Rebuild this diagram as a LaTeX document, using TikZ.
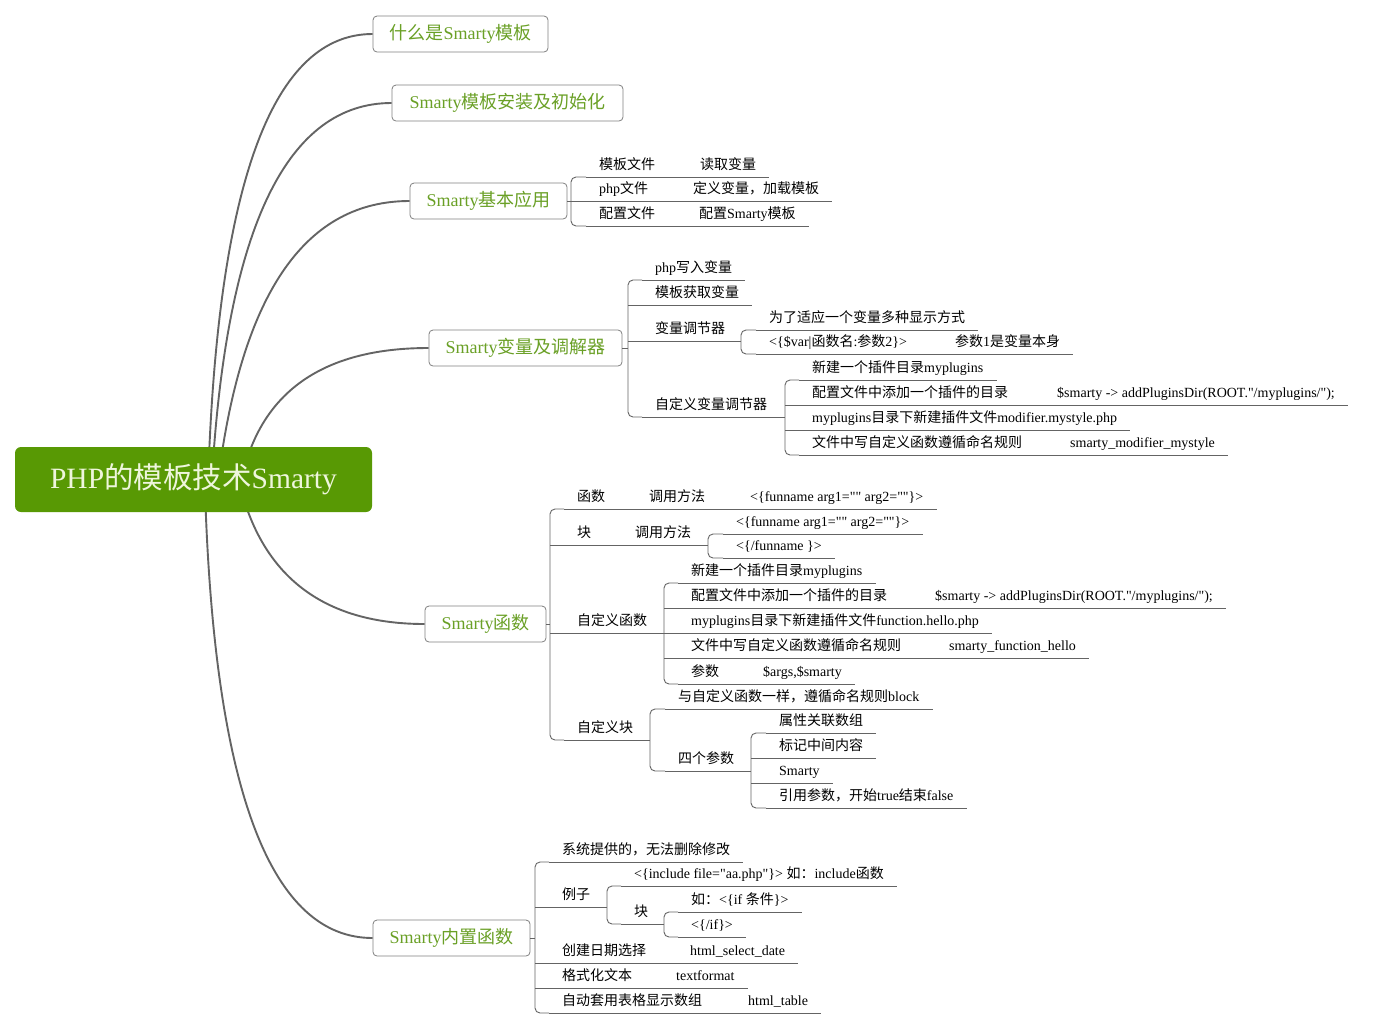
\documentclass[tikz,border=0pt]{standalone}
\usepackage{fontspec}
\setmainfont{Liberation Serif}[Ligatures=TeXOff]
\newfontfamily\zhfont{Noto Sans CJK SC}
\usetikzlibrary{calc,backgrounds}
% switch to the CJK face for Han characters
\XeTeXinterchartokenstate=1
\newXeTeXintercharclass\zhclass
\count255="4E00
\loop\XeTeXcharclass\count255=\zhclass
  \ifnum\count255<"9FFF \advance\count255 by 1 \repeat
\XeTeXcharclass"FF0C=\zhclass
\XeTeXcharclass"FF1A=\zhclass
\XeTeXinterchartoks 0 \zhclass={\begingroup\zhfont}
\XeTeXinterchartoks 4095 \zhclass={\begingroup\zhfont}
\XeTeXinterchartoks \zhclass 0={\endgroup}
\XeTeXinterchartoks \zhclass 4095={\endgroup}

\begin{document}
\begin{tikzpicture}[x=1pt,y=-1pt,
  root/.style={fill=rootGreen,rounded corners=6pt,text=rootText,
    font=\fontsize{29.5}{33}\selectfont,minimum width=357pt,minimum height=65pt},
  topic/.style={draw=boxGray,line width=0.8pt,rounded corners=4pt,fill=white,
    text=topicGreen,font=\fontsize{18}{20}\selectfont,minimum height=36pt},
  leaf/.style={anchor=south west,inner xsep=13pt,inner ysep=4pt,
    text height=11pt,text depth=3pt,font=\fontsize{14}{16}\selectfont},
  branch/.style={draw=lineGray,line width=1.9pt},
  lk/.style={draw=lineGray,line width=0.9pt}]
  \definecolor{rootGreen} {RGB}{ 88,153,  4}
  \definecolor{rootText}  {RGB}{238,246,220}
  \definecolor{topicGreen}{RGB}{106,160, 38}
  \definecolor{lineGray}  {RGB}{100,100,100}
  \definecolor{boxGray}   {RGB}{128,128,128}
  \useasboundingbox(0,0)rectangle(1386,1029);

  \node[root](root)at(193.5,479.5){PHP的模板技术Smarty};
  \node[topic,minimum width=175pt](t1)at(460.5,34){什么是Smarty模板};
  \node[topic,minimum width=231pt](t2)at(507.5,103){Smarty模板安装及初始化};
  \node[topic,minimum width=157pt](t3)at(488.5,201){Smarty基本应用};
  \node[topic,minimum width=193pt](t4)at(525.5,348){Smarty变量及调解器};
  \node[topic,minimum width=121pt](t5)at(485.5,624){Smarty函数};
  \node[topic,minimum width=157pt](t6)at(451.5,938){Smarty内置函数};

  % Smarty基本应用
  \coordinate(s3)at(571,201);
  \node[leaf](a1)at(586,177){模板文件};
  \node[leaf](a1x)at(687,177){读取变量};
  \node[leaf](a2)at(586,201){php文件};
  \node[leaf](a2x)at(680,201){定义变量，加载模板};
  \node[leaf](a3)at(586,226){配置文件};
  \node[leaf](a3x)at(686,226){配置Smarty模板};

  % Smarty变量及调解器
  \coordinate(s4)at(628,348);
  \node[leaf](b1)at(642,280){php写入变量};
  \node[leaf](b2)at(642,305){模板获取变量};
  \node[leaf](b3)at(642,341){变量调节器};
  \coordinate(sb3)at(741,341);
  \node[leaf](b31)at(756,330){为了适应一个变量多种显示方式};
  \node[leaf](b32)at(756,354){<\{\$var|函数名:参数2\}>};
  \node[leaf](b32x)at(942,354){参数1是变量本身};
  \node[leaf](b4)at(642,417){自定义变量调节器};
  \coordinate(sb4)at(785,417);
  \node[leaf](b41)at(799,380){新建一个插件目录myplugins};
  \node[leaf](b42)at(799,405){配置文件中添加一个插件的目录};
  \node[leaf](b42x)at(1044,405){\$smarty -> addPluginsDir(ROOT."/myplugins/");};
  \node[leaf](b43)at(799,430){myplugins目录下新建插件文件modifier.mystyle.php};
  \node[leaf](b44)at(799,455){文件中写自定义函数遵循命名规则};
  \node[leaf](b44x)at(1057,455){smarty\_modifier\_mystyle};

  % Smarty函数
  \coordinate(s5)at(550,624);
  \node[leaf](c1)at(564,509){函数};
  \node[leaf](c1x)at(636,509){调用方法};
  \node[leaf](c1xx)at(737,509){<\{funname arg1="" arg2=""\}>};
  \node[leaf](c2)at(564,545){块};
  \node[leaf](c2x)at(622,545){调用方法};
  \coordinate(sc2)at(708,545);
  \node[leaf](c21)at(723,534){<\{funname arg1="" arg2=""\}>};
  \node[leaf](c22)at(723,558){<\{/funname \}>};
  \node[leaf](c3)at(564,633){自定义函数};
  \coordinate(sc3)at(664,633);
  \node[leaf](c31)at(678,583){新建一个插件目录myplugins};
  \node[leaf](c32)at(678,608){配置文件中添加一个插件的目录};
  \node[leaf](c32x)at(922,608){\$smarty -> addPluginsDir(ROOT."/myplugins/");};
  \node[leaf](c33)at(678,633){myplugins目录下新建插件文件function.hello.php};
  \node[leaf](c34)at(678,658){文件中写自定义函数遵循命名规则};
  \node[leaf](c34x)at(936,658){smarty\_function\_hello};
  \node[leaf](c35)at(678,684){参数};
  \node[leaf](c35x)at(750,684){\$args,\$smarty};
  \node[leaf](c4)at(564,740){自定义块};
  \coordinate(sc4)at(650,740);
  \node[leaf](c41)at(665,709){与自定义函数一样，遵循命名规则block};
  \node[leaf](c42)at(665,771){四个参数};
  \coordinate(sc42)at(751,771);
  \node[leaf](c421)at(766,733){属性关联数组};
  \node[leaf](c422)at(766,758){标记中间内容};
  \node[leaf](c423)at(766,783){Smarty};
  \node[leaf](c424)at(766,808){引用参数，开始true结束false};

  % Smarty内置函数
  \coordinate(s6)at(535,938);
  \node[leaf](d1)at(549,862){系统提供的，无法删除修改};
  \node[leaf](d2)at(549,907){例子};
  \coordinate(sd2)at(607,907);
  \node[leaf](d21)at(621,886){<\{include file="aa.php"\}> 如：include函数};
  \node[leaf](d22)at(621,924){块};
  \coordinate(sd22)at(664,924);
  \node[leaf](d221)at(678,912){如：<\{if 条件\}>};
  \node[leaf](d222)at(678,937){<\{/if\}>};
  \node[leaf](d3)at(549,963){创建日期选择};
  \node[leaf](d3x)at(677,963){html\_select\_date};
  \node[leaf](d4)at(549,988){格式化文本};
  \node[leaf](d4x)at(663,988){textformat};
  \node[leaf](d5)at(549,1013){自动套用表格显示数组};
  \node[leaf](d5x)at(735,1013){html\_table};

  % connectors
  \foreach \t/\s in {t3/s3,t4/s4,t5/s5,t6/s6}\draw[lk](\t.east)--(\s);
  \foreach \p/\s in {b3/sb3,b4/sb4,c2x/sc2,c3/sc3,c4/sc4,c42/sc42,d2/sd2,d22/sd22}
    \draw[lk](\p.south west)--(\s);
  \foreach \s/\f/\l in {s3/a1/a3,s4/b1/b4,sb3/b31/b32,sb4/b41/b44,s5/c1/c4,
      sc2/c21/c22,sc3/c31/c35,sc4/c41/c42,sc42/c421/c424,s6/d1/d5,sd2/d21/d22,sd22/d221/d222}
    \draw[lk,rounded corners=5pt](\f.south west)-|(\s)|-(\l.south west);
  \foreach \s/\n in {s3/a2,s4/b2,s4/b3,sb4/b42,sb4/b43,s5/c2,s5/c3,sc3/c32,sc3/c33,
      sc3/c34,sc42/c422,sc42/c423,s6/d2,s6/d3,s6/d4}
    \draw[lk](\n.south west)--(\n.south west-|\s);
  \foreach \p/\c in {a1/a1x,a2/a2x,a3/a3x,b32/b32x,b42/b42x,b44/b44x,c1/c1x,c1x/c1xx,
      c2/c2x,c32/c32x,c34/c34x,c35/c35x,d3/d3x,d4/d4x,d5/d5x}
    \draw[lk](\p.south west)--(\c.south west);
  \foreach \n in {a1x,a2x,a3x,b1,b2,b31,b32x,b41,b42x,b43,b44x,c1xx,c21,c22,c31,c32x,
      c33,c34x,c35x,c41,c421,c422,c423,c424,d1,d21,d221,d222,d3x,d4x,d5x}
    \draw[lk](\n.south west)--(\n.south east);

  \begin{scope}[on background layer]
    \fill[white](0,0)rectangle(1386,1029);
    \draw[branch]($(root.center)+(15,-10)$)..controls(219,179)and(274,34)..(t1.west);
    \draw[branch]($(root.center)+(19,-10)$)..controls(228,225)and(288,103)..(t2.west);
    \draw[branch]($(root.center)+(26,-10)$)..controls(244,290)and(307,201)..(t3.west);
    \draw[branch]($(root.center)+(55,-25)$)..controls(273,384)and(333,348)..(t4.west);
    \draw[branch]($(root.center)+(52,25)$)..controls(272,584)and(332,624)..(t5.west);
    \draw[branch]($(root.center)+(12,25)$)..controls(216,794)and(272,938)..(t6.west);
  \end{scope}
\end{tikzpicture}
\end{document}
